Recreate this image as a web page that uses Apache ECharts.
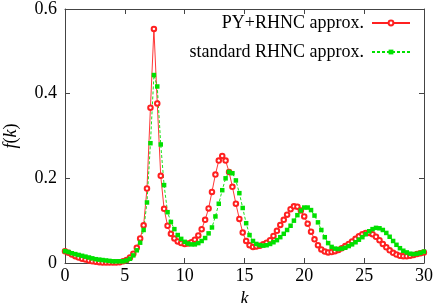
<!DOCTYPE html>
<html><head><meta charset="utf-8">
<script src="https://cdn.jsdelivr.net/npm/echarts@6/dist/echarts.min.js"></script>
<style>html,body{margin:0;padding:0;background:#fff}#c{width:435px;height:303px}</style>
</head><body><div id="c"></div>
<script>
const kValues = [0,0.29,0.57,0.86,1.14,1.43,1.71,2.00,2.28,2.57,2.86,3.14,3.43,3.71,4.00,4.28,4.57,4.86,5.14,5.43,5.71,6.00,6.28,6.57,6.85,7.14,7.43,7.71,8.00,8.28,8.57,8.85,9.14,9.42,9.71,10.00,10.28,10.57,10.85,11.14,11.42,11.71,12.00,12.28,12.57,12.85,13.14,13.42,13.71,13.99,14.28,14.57,14.85,15.14,15.42,15.71,15.99,16.28,16.57,16.85,17.14,17.42,17.71,17.99,18.28,18.56,18.85,19.13,19.42,19.71,19.99,20.28,20.56,20.85,21.14,21.42,21.71,21.99,22.28,22.56,22.85,23.13,23.42,23.71,23.99,24.28,24.56,24.85,25.13,25.42,25.70,25.99,26.28,26.56,26.85,27.13,27.42,27.70,27.99,28.27,28.56,28.85,29.13,29.42,29.70,29.99];
const pyRhnc = [0.028,0.024,0.020,0.016,0.013,0.010,0.008,0.006,0.004,0.003,
0.002,0.001,0.001,0.001,0.001,0.001,0.002,0.004,0.007,0.013,
0.022,0.036,0.058,0.089,0.176,0.367,0.553,0.377,0.206,0.128,
0.088,0.069,0.058,0.051,0.047,0.045,0.046,0.049,0.055,0.065,
0.080,0.102,0.129,0.168,0.209,0.242,0.253,0.242,0.215,0.180,
0.140,0.104,0.072,0.052,0.042,0.038,0.039,0.041,0.044,0.048,
0.054,0.064,0.076,0.090,0.102,0.114,0.127,0.134,0.133,0.124,
0.110,0.093,0.074,0.056,0.042,0.032,0.027,0.025,0.026,0.028,
0.031,0.035,0.040,0.045,0.051,0.057,0.063,0.068,0.071,0.071,
0.068,0.062,0.054,0.045,0.037,0.030,0.024,0.020,0.017,0.016,
0.016,0.017,0.019,0.021,0.023,0.025];
const stdRhnc = [0.028,0.026,0.023,0.021,0.019,0.017,0.015,0.013,0.011,0.009,
0.008,0.007,0.006,0.005,0.004,0.004,0.004,0.004,0.006,0.010,
0.018,0.030,0.048,0.078,0.143,0.283,0.444,0.417,0.280,0.184,
0.120,0.097,0.080,0.066,0.057,0.050,0.046,0.044,0.044,0.047,
0.052,0.059,0.070,0.084,0.110,0.140,0.172,0.200,0.215,0.212,
0.195,0.165,0.130,0.094,0.066,0.052,0.045,0.042,0.041,0.042,
0.045,0.049,0.054,0.061,0.069,0.078,0.088,0.100,0.113,0.124,
0.131,0.131,0.125,0.112,0.096,0.078,0.061,0.047,0.038,0.034,
0.033,0.034,0.036,0.040,0.044,0.049,0.055,0.061,0.068,0.075,
0.080,0.083,0.082,0.078,0.071,0.062,0.052,0.043,0.035,0.029,
0.025,0.022,0.021,0.022,0.024,0.027];
const seriesNames = ['PY+RHNC approx.', 'standard RHNC approx.'];
const xTicks = {min: 0, max: 30, step: 5};
const yTicks = {min: 0, max: 0.6, step: 0.2};

const FONT = "'Liberation Serif', 'Times New Roman', serif";
const AX = '#444';
const pair = arr => kValues.map((k, i) => [k, arr[i]]);
const tickFmt = v => (Math.abs(v) < 1e-9 ? '0' : String(+v.toFixed(1)));

const chart = echarts.init(document.getElementById('c'), null, {renderer: 'canvas'});
const axisCommon = {
  axisLine: {show: true, onZero: false, lineStyle: {color: AX, width: 1}},
  axisTick: {show: true, inside: true, length: 5, lineStyle: {color: AX}},
  splitLine: {show: false}
};
chart.setOption({
  animation: false,
  backgroundColor: '#fff',
  textStyle: {fontFamily: FONT},
  grid: {left: 65, right: 11, top: 9, bottom: 40, containLabel: false, outerBoundsMode: 'none'},
  legend: [
    {data: [seriesNames[0]], right: 24, top: 14, align: 'right', itemWidth: 38, itemHeight: 6,
     padding: 0, textStyle: {fontFamily: FONT, fontSize: 18, color: '#000', padding: [0, 3, 0, 0]}},
    {data: [seriesNames[1]], right: 24, top: 43, align: 'right', itemWidth: 38, itemHeight: 6,
     padding: 0, textStyle: {fontFamily: FONT, fontSize: 18, color: '#000', padding: [0, 3, 0, 0]}}
  ],
  xAxis: [
    Object.assign({type: 'value', position: 'bottom', min: xTicks.min, max: xTicks.max, interval: xTicks.step,
      name: 'k', nameLocation: 'middle', nameGap: 22,
      nameTextStyle: {fontFamily: FONT, fontSize: 18, fontStyle: 'italic', color: '#000'},
      axisLabel: {fontFamily: FONT, fontSize: 18, color: '#000', margin: 4, formatter: tickFmt}}, axisCommon),
    Object.assign({type: 'value', position: 'top', min: xTicks.min, max: xTicks.max, interval: xTicks.step,
      axisLabel: {show: false}}, axisCommon)
  ],
  yAxis: [
    Object.assign({type: 'value', position: 'left', min: yTicks.min, max: yTicks.max, interval: yTicks.step,
      name: '{i|f}({i|k})', nameLocation: 'middle', nameGap: 45, nameRotate: 90,
      nameTextStyle: {fontFamily: FONT, fontSize: 18, color: '#000', rich: {i: {fontFamily: FONT, fontSize: 18, fontStyle: 'italic'}}},
      axisLabel: {fontFamily: FONT, fontSize: 18, color: '#000', margin: 8, formatter: tickFmt}}, axisCommon),
    Object.assign({type: 'value', position: 'right', min: yTicks.min, max: yTicks.max, interval: yTicks.step,
      axisLabel: {show: false}}, axisCommon)
  ],
  series: [
    {name: seriesNames[0], type: 'line', data: pair(pyRhnc), xAxisIndex: 0, yAxisIndex: 0,
     symbol: 'emptyCircle', symbolSize: 4.5, showAllSymbol: true,
     lineStyle: {color: '#ff2020', width: 0.9}, itemStyle: {color: '#ff2020', borderWidth: 0.8}},
    {name: seriesNames[1], type: 'line', data: pair(stdRhnc), xAxisIndex: 0, yAxisIndex: 0,
     symbol: 'rect', symbolSize: 4.5, showAllSymbol: true,
     lineStyle: {color: '#00e000', width: 0.9, type: [3, 2]}, itemStyle: {color: '#00e000'}}
  ]
});
</script></body></html>
